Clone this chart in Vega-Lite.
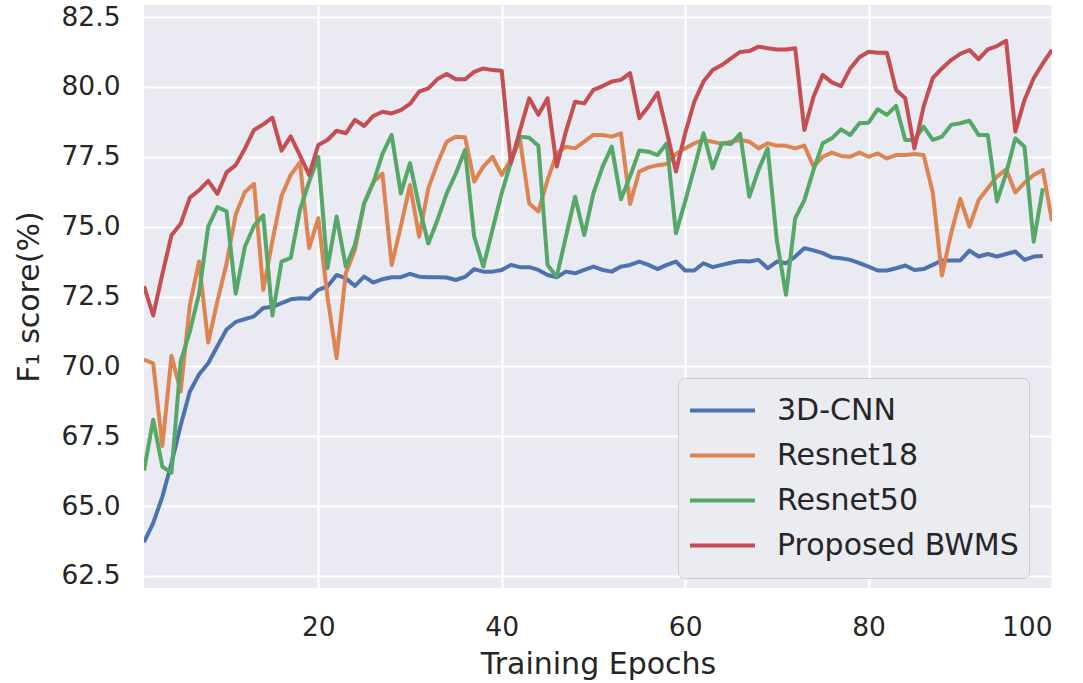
{
  "$schema": "https://vega.github.io/schema/vega-lite/v6.json",
  "width": 908,
  "height": 583,
  "autosize": {"type": "none"},
  "padding": {"left": 144, "top": 5, "right": 31, "bottom": 95},
  "background": "#FFFFFF",
  "config": {
    "view": {"fill": "#EAEAF2", "stroke": null},
    "font": "DejaVu Sans",
    "axis": {
      "domain": false,
      "ticks": false,
      "grid": true,
      "gridColor": "#FFFFFF",
      "gridWidth": 2.2,
      "labelFont": "DejaVu Sans",
      "labelFontSize": 26.5,
      "labelColor": "#262626",
      "titleFont": "DejaVu Sans",
      "titleFontSize": 30,
      "titleFontWeight": "normal",
      "titleColor": "#262626"
    }
  },
  "data": {
    "values": [
      {"epoch": 1, "3D-CNN": 63.71, "Resnet18": 70.24, "Resnet50": 66.27, "Proposed BWMS": 72.87},
      {"epoch": 2, "3D-CNN": 64.39, "Resnet18": 70.11, "Resnet50": 68.09, "Proposed BWMS": 71.82},
      {"epoch": 3, "3D-CNN": 65.33, "Resnet18": 67.15, "Resnet50": 66.41, "Proposed BWMS": 73.3},
      {"epoch": 4, "3D-CNN": 66.54, "Resnet18": 70.38, "Resnet50": 66.2, "Proposed BWMS": 74.69},
      {"epoch": 5, "3D-CNN": 67.89, "Resnet18": 69.1, "Resnet50": 70.18, "Proposed BWMS": 75.1},
      {"epoch": 6, "3D-CNN": 69.1, "Resnet18": 72.2, "Resnet50": 71.25, "Proposed BWMS": 76.04},
      {"epoch": 7, "3D-CNN": 69.71, "Resnet18": 73.75, "Resnet50": 72.6, "Proposed BWMS": 76.3},
      {"epoch": 8, "3D-CNN": 70.11, "Resnet18": 70.85, "Resnet50": 75.0, "Proposed BWMS": 76.64},
      {"epoch": 9, "3D-CNN": 70.72, "Resnet18": 72.33, "Resnet50": 75.7, "Proposed BWMS": 76.17},
      {"epoch": 10, "3D-CNN": 71.32, "Resnet18": 73.68, "Resnet50": 75.55, "Proposed BWMS": 76.94},
      {"epoch": 11, "3D-CNN": 71.59, "Resnet18": 75.43, "Resnet50": 72.6, "Proposed BWMS": 77.2},
      {"epoch": 12, "3D-CNN": 71.69, "Resnet18": 76.24, "Resnet50": 74.28, "Proposed BWMS": 77.79},
      {"epoch": 13, "3D-CNN": 71.79, "Resnet18": 76.53, "Resnet50": 75.03, "Proposed BWMS": 78.46},
      {"epoch": 14, "3D-CNN": 72.09, "Resnet18": 72.74, "Resnet50": 75.4, "Proposed BWMS": 78.66},
      {"epoch": 15, "3D-CNN": 72.13, "Resnet18": 74.49, "Resnet50": 71.82, "Proposed BWMS": 78.9},
      {"epoch": 16, "3D-CNN": 72.26, "Resnet18": 76.1, "Resnet50": 73.75, "Proposed BWMS": 77.72},
      {"epoch": 17, "3D-CNN": 72.4, "Resnet18": 76.85, "Resnet50": 73.88, "Proposed BWMS": 78.23},
      {"epoch": 18, "3D-CNN": 72.44, "Resnet18": 77.3, "Resnet50": 75.6, "Proposed BWMS": 77.55},
      {"epoch": 19, "3D-CNN": 72.42, "Resnet18": 74.23, "Resnet50": 76.6, "Proposed BWMS": 76.85},
      {"epoch": 20, "3D-CNN": 72.74, "Resnet18": 75.3, "Resnet50": 77.5, "Proposed BWMS": 77.92},
      {"epoch": 21, "3D-CNN": 72.86, "Resnet18": 72.5, "Resnet50": 73.51, "Proposed BWMS": 78.1},
      {"epoch": 22, "3D-CNN": 73.27, "Resnet18": 70.29, "Resnet50": 75.36, "Proposed BWMS": 78.43},
      {"epoch": 23, "3D-CNN": 73.15, "Resnet18": 73.33, "Resnet50": 73.57, "Proposed BWMS": 78.34},
      {"epoch": 24, "3D-CNN": 72.88, "Resnet18": 74.17, "Resnet50": 74.35, "Proposed BWMS": 78.82},
      {"epoch": 25, "3D-CNN": 73.21, "Resnet18": 75.83, "Resnet50": 75.83, "Proposed BWMS": 78.6},
      {"epoch": 26, "3D-CNN": 73.0, "Resnet18": 76.6, "Resnet50": 76.57, "Proposed BWMS": 78.96},
      {"epoch": 27, "3D-CNN": 73.12, "Resnet18": 76.9, "Resnet50": 77.6, "Proposed BWMS": 79.11},
      {"epoch": 28, "3D-CNN": 73.19, "Resnet18": 73.63, "Resnet50": 78.28, "Proposed BWMS": 79.05},
      {"epoch": 29, "3D-CNN": 73.19, "Resnet18": 75.0, "Resnet50": 76.19, "Proposed BWMS": 79.17},
      {"epoch": 30, "3D-CNN": 73.31, "Resnet18": 76.49, "Resnet50": 77.27, "Proposed BWMS": 79.39},
      {"epoch": 31, "3D-CNN": 73.21, "Resnet18": 74.64, "Resnet50": 75.72, "Proposed BWMS": 79.83},
      {"epoch": 32, "3D-CNN": 73.19, "Resnet18": 76.37, "Resnet50": 74.4, "Proposed BWMS": 79.95},
      {"epoch": 33, "3D-CNN": 73.19, "Resnet18": 77.27, "Resnet50": 75.24, "Proposed BWMS": 80.28},
      {"epoch": 34, "3D-CNN": 73.18, "Resnet18": 78.04, "Resnet50": 76.19, "Proposed BWMS": 80.46},
      {"epoch": 35, "3D-CNN": 73.09, "Resnet18": 78.22, "Resnet50": 76.9, "Proposed BWMS": 80.27},
      {"epoch": 36, "3D-CNN": 73.2, "Resnet18": 78.2, "Resnet50": 77.74, "Proposed BWMS": 80.27},
      {"epoch": 37, "3D-CNN": 73.48, "Resnet18": 76.61, "Resnet50": 74.64, "Proposed BWMS": 80.54},
      {"epoch": 38, "3D-CNN": 73.39, "Resnet18": 77.15, "Resnet50": 73.57, "Proposed BWMS": 80.66},
      {"epoch": 39, "3D-CNN": 73.39, "Resnet18": 77.5, "Resnet50": 74.9, "Proposed BWMS": 80.6},
      {"epoch": 40, "3D-CNN": 73.45, "Resnet18": 76.85, "Resnet50": 76.2, "Proposed BWMS": 80.58},
      {"epoch": 41, "3D-CNN": 73.63, "Resnet18": 77.4, "Resnet50": 77.3, "Proposed BWMS": 77.27},
      {"epoch": 42, "3D-CNN": 73.55, "Resnet18": 78.1, "Resnet50": 78.22, "Proposed BWMS": 78.46},
      {"epoch": 43, "3D-CNN": 73.55, "Resnet18": 75.83, "Resnet50": 78.18, "Proposed BWMS": 79.59},
      {"epoch": 44, "3D-CNN": 73.45, "Resnet18": 75.54, "Resnet50": 77.89, "Proposed BWMS": 79.0},
      {"epoch": 45, "3D-CNN": 73.27, "Resnet18": 76.67, "Resnet50": 73.63, "Proposed BWMS": 79.59},
      {"epoch": 46, "3D-CNN": 73.19, "Resnet18": 77.62, "Resnet50": 73.21, "Proposed BWMS": 77.15},
      {"epoch": 47, "3D-CNN": 73.39, "Resnet18": 77.86, "Resnet50": 74.64, "Proposed BWMS": 78.4},
      {"epoch": 48, "3D-CNN": 73.33, "Resnet18": 77.8, "Resnet50": 76.07, "Proposed BWMS": 79.47},
      {"epoch": 49, "3D-CNN": 73.45, "Resnet18": 78.04, "Resnet50": 74.7, "Proposed BWMS": 79.41},
      {"epoch": 50, "3D-CNN": 73.57, "Resnet18": 78.28, "Resnet50": 76.19, "Proposed BWMS": 79.89},
      {"epoch": 51, "3D-CNN": 73.45, "Resnet18": 78.28, "Resnet50": 77.15, "Proposed BWMS": 80.03},
      {"epoch": 52, "3D-CNN": 73.39, "Resnet18": 78.22, "Resnet50": 77.86, "Proposed BWMS": 80.19},
      {"epoch": 53, "3D-CNN": 73.57, "Resnet18": 78.34, "Resnet50": 75.98, "Proposed BWMS": 80.25},
      {"epoch": 54, "3D-CNN": 73.63, "Resnet18": 75.81, "Resnet50": 76.8, "Proposed BWMS": 80.49},
      {"epoch": 55, "3D-CNN": 73.75, "Resnet18": 76.97, "Resnet50": 77.72, "Proposed BWMS": 78.88},
      {"epoch": 56, "3D-CNN": 73.63, "Resnet18": 77.12, "Resnet50": 77.68, "Proposed BWMS": 79.3},
      {"epoch": 57, "3D-CNN": 73.48, "Resnet18": 77.2, "Resnet50": 77.56, "Proposed BWMS": 79.79},
      {"epoch": 58, "3D-CNN": 73.63, "Resnet18": 77.24, "Resnet50": 77.98, "Proposed BWMS": 78.4},
      {"epoch": 59, "3D-CNN": 73.75, "Resnet18": 77.6, "Resnet50": 74.76, "Proposed BWMS": 76.97},
      {"epoch": 60, "3D-CNN": 73.43, "Resnet18": 77.8, "Resnet50": 75.9, "Proposed BWMS": 78.34},
      {"epoch": 61, "3D-CNN": 73.43, "Resnet18": 77.98, "Resnet50": 77.1, "Proposed BWMS": 79.47},
      {"epoch": 62, "3D-CNN": 73.69, "Resnet18": 78.1, "Resnet50": 78.34, "Proposed BWMS": 80.19},
      {"epoch": 63, "3D-CNN": 73.55, "Resnet18": 78.04, "Resnet50": 77.09, "Proposed BWMS": 80.6},
      {"epoch": 64, "3D-CNN": 73.63, "Resnet18": 77.96, "Resnet50": 77.98, "Proposed BWMS": 80.78},
      {"epoch": 65, "3D-CNN": 73.71, "Resnet18": 78.04, "Resnet50": 77.96, "Proposed BWMS": 81.02},
      {"epoch": 66, "3D-CNN": 73.77, "Resnet18": 78.1, "Resnet50": 78.32, "Proposed BWMS": 81.25},
      {"epoch": 67, "3D-CNN": 73.75, "Resnet18": 78.04, "Resnet50": 76.07, "Proposed BWMS": 81.28},
      {"epoch": 68, "3D-CNN": 73.81, "Resnet18": 77.8, "Resnet50": 77.03, "Proposed BWMS": 81.44},
      {"epoch": 69, "3D-CNN": 73.51, "Resnet18": 77.98, "Resnet50": 77.8, "Proposed BWMS": 81.38},
      {"epoch": 70, "3D-CNN": 73.75, "Resnet18": 77.9, "Resnet50": 74.5, "Proposed BWMS": 81.34},
      {"epoch": 71, "3D-CNN": 73.69, "Resnet18": 77.89, "Resnet50": 72.56, "Proposed BWMS": 81.34},
      {"epoch": 72, "3D-CNN": 73.93, "Resnet18": 77.8, "Resnet50": 75.3, "Proposed BWMS": 81.38},
      {"epoch": 73, "3D-CNN": 74.23, "Resnet18": 77.9, "Resnet50": 75.95, "Proposed BWMS": 78.46},
      {"epoch": 74, "3D-CNN": 74.15, "Resnet18": 77.15, "Resnet50": 77.03, "Proposed BWMS": 79.65},
      {"epoch": 75, "3D-CNN": 74.05, "Resnet18": 77.5, "Resnet50": 77.98, "Proposed BWMS": 80.43},
      {"epoch": 76, "3D-CNN": 73.9, "Resnet18": 77.65, "Resnet50": 78.16, "Proposed BWMS": 80.16},
      {"epoch": 77, "3D-CNN": 73.87, "Resnet18": 77.53, "Resnet50": 78.48, "Proposed BWMS": 80.03},
      {"epoch": 78, "3D-CNN": 73.81, "Resnet18": 77.5, "Resnet50": 78.28, "Proposed BWMS": 80.66},
      {"epoch": 79, "3D-CNN": 73.69, "Resnet18": 77.65, "Resnet50": 78.7, "Proposed BWMS": 81.06},
      {"epoch": 80, "3D-CNN": 73.57, "Resnet18": 77.5, "Resnet50": 78.72, "Proposed BWMS": 81.26},
      {"epoch": 81, "3D-CNN": 73.43, "Resnet18": 77.62, "Resnet50": 79.2, "Proposed BWMS": 81.22},
      {"epoch": 82, "3D-CNN": 73.43, "Resnet18": 77.44, "Resnet50": 79.0, "Proposed BWMS": 81.22},
      {"epoch": 83, "3D-CNN": 73.51, "Resnet18": 77.56, "Resnet50": 79.32, "Proposed BWMS": 79.89},
      {"epoch": 84, "3D-CNN": 73.61, "Resnet18": 77.56, "Resnet50": 78.1, "Proposed BWMS": 79.59},
      {"epoch": 85, "3D-CNN": 73.45, "Resnet18": 77.6, "Resnet50": 78.1, "Proposed BWMS": 77.8},
      {"epoch": 86, "3D-CNN": 73.48, "Resnet18": 77.56, "Resnet50": 78.58, "Proposed BWMS": 79.29},
      {"epoch": 87, "3D-CNN": 73.63, "Resnet18": 76.22, "Resnet50": 78.1, "Proposed BWMS": 80.31},
      {"epoch": 88, "3D-CNN": 73.79, "Resnet18": 73.25, "Resnet50": 78.22, "Proposed BWMS": 80.66},
      {"epoch": 89, "3D-CNN": 73.79, "Resnet18": 74.76, "Resnet50": 78.64, "Proposed BWMS": 80.96},
      {"epoch": 90, "3D-CNN": 73.79, "Resnet18": 76.0, "Resnet50": 78.7, "Proposed BWMS": 81.18},
      {"epoch": 91, "3D-CNN": 74.14, "Resnet18": 75.0, "Resnet50": 78.79, "Proposed BWMS": 81.32},
      {"epoch": 92, "3D-CNN": 73.93, "Resnet18": 75.95, "Resnet50": 78.28, "Proposed BWMS": 80.99},
      {"epoch": 93, "3D-CNN": 74.02, "Resnet18": 76.37, "Resnet50": 78.28, "Proposed BWMS": 81.34},
      {"epoch": 94, "3D-CNN": 73.93, "Resnet18": 76.79, "Resnet50": 75.9, "Proposed BWMS": 81.46},
      {"epoch": 95, "3D-CNN": 74.02, "Resnet18": 77.05, "Resnet50": 76.91, "Proposed BWMS": 81.65},
      {"epoch": 96, "3D-CNN": 74.11, "Resnet18": 76.22, "Resnet50": 78.16, "Proposed BWMS": 78.4},
      {"epoch": 97, "3D-CNN": 73.81, "Resnet18": 76.57, "Resnet50": 77.86, "Proposed BWMS": 79.53},
      {"epoch": 98, "3D-CNN": 73.93, "Resnet18": 76.85, "Resnet50": 74.46, "Proposed BWMS": 80.31},
      {"epoch": 99, "3D-CNN": 73.95, "Resnet18": 77.03, "Resnet50": 76.37, "Proposed BWMS": 80.84},
      {"epoch": 100, "Resnet18": 75.2, "Proposed BWMS": 81.32}
    ]
  },
  "transform": [
    {"fold": ["3D-CNN", "Resnet18", "Resnet50", "Proposed BWMS"], "as": ["model", "f1"]},
    {"filter": "isValid(datum.f1)"}
  ],
  "mark": {"type": "line", "strokeWidth": 4, "strokeJoin": "round", "clip": true},
  "encoding": {
    "x": {
      "field": "epoch",
      "type": "quantitative",
      "scale": {"domain": [1, 100], "nice": false, "zero": false},
      "axis": {"values": [20, 40, 60, 80, 100], "title": "Training Epochs", "labelPadding": 26, "titlePadding": 9}
    },
    "y": {
      "field": "f1",
      "type": "quantitative",
      "scale": {"domain": [62.07, 82.93], "nice": false, "zero": false},
      "axis": {"values": [62.5, 65, 67.5, 70, 72.5, 75, 77.5, 80, 82.5], "format": ".1f", "title": "F₁ score(%)", "labelPadding": 24, "titlePadding": 16}
    },
    "color": {
      "field": "model",
      "type": "nominal",
      "sort": ["3D-CNN", "Resnet18", "Resnet50", "Proposed BWMS"],
      "scale": {"domain": ["3D-CNN", "Resnet18", "Resnet50", "Proposed BWMS"], "range": ["#4C72B0", "#DD8452", "#55A868", "#C44E52"]},
      "legend": {
        "title": null,
        "orient": "none",
        "legendX": 534,
        "legendY": 373,
        "symbolType": "stroke",
        "symbolSize": 4225,
        "symbolStrokeWidth": 4,
        "labelFontSize": 30,
        "labelFont": "DejaVu Sans",
        "labelColor": "#262626",
        "labelLimit": 0,
        "labelOffset": 20,
        "clipHeight": 45,
        "rowPadding": 0,
        "padding": 10,
        "fillColor": "#EBEBF2",
        "strokeColor": "#CCCCCC",
        "cornerRadius": 6
      }
    }
  }
}
